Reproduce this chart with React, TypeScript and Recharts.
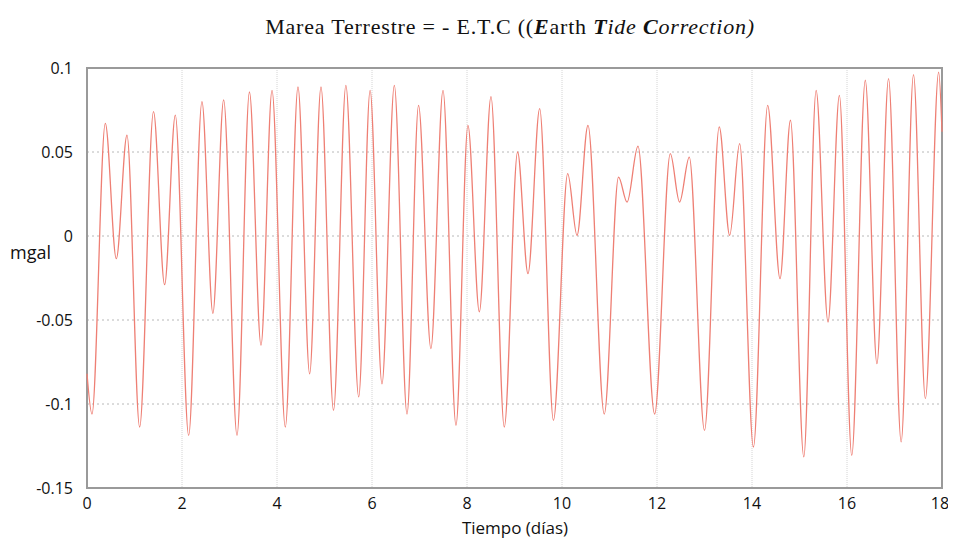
import React from "react";
import {
  LineChart,
  Line,
  XAxis,
  YAxis,
  CartesianGrid,
  ReferenceArea,
} from "recharts";

// Time (days) of each turning point of the curve
const times: number[] = [
  0.0, 0.105, 0.385, 0.617, 0.842, 1.108, 1.4, 1.634, 1.859, 2.14, 2.42, 2.65,
  2.877, 3.158, 3.42, 3.663, 3.895, 4.175, 4.442, 4.687, 4.926, 5.19, 5.45,
  5.72, 5.96, 6.21, 6.47, 6.737, 6.98, 7.24, 7.495, 7.768, 8.02, 8.26, 8.505,
  8.785, 9.065, 9.284, 9.53, 9.82, 10.12, 10.316, 10.547, 10.89, 11.19, 11.37,
  11.6, 11.95, 12.28, 12.475, 12.68, 13.0, 13.31, 13.53, 13.74, 14.03, 14.33,
  14.59, 14.81, 15.09, 15.35, 15.6, 15.84, 16.1, 16.385, 16.63, 16.875, 17.14,
  17.4, 17.65, 17.93, 18.0,
];

// Earth tide correction (mgal) at those points
const values: number[] = [
  -0.082, -0.106, 0.067, -0.0135, 0.06, -0.1137, 0.074, -0.029, 0.072, -0.1187,
  0.08, -0.046, 0.081, -0.1187, 0.0857, -0.065, 0.0867, -0.1137, 0.0887,
  -0.082, 0.0887, -0.1038, 0.0897, -0.0958, 0.0867, -0.088, 0.0897, -0.106,
  0.0778, -0.067, 0.0867, -0.1127, 0.0659, -0.0452, 0.083, -0.1137, 0.05,
  -0.0224, 0.0758, -0.1097, 0.0371, 0.0004, 0.0659, -0.106, 0.0351, 0.0202,
  0.0535, -0.106, 0.049, 0.0202, 0.047, -0.1157, 0.0649, 0.0004, 0.055,
  -0.1256, 0.0778, -0.0254, 0.0689, -0.1315, 0.0867, -0.0512, 0.0837, -0.1306,
  0.0927, -0.076, 0.0937, -0.1226, 0.096, -0.0968, 0.0976, 0.062,
];

const xTicks: number[] = [0, 2, 4, 6, 8, 10, 12, 14, 16, 18];
const yTicks: number[] = [-0.15, -0.1, -0.05, 0, 0.05, 0.1];

const data = times.map((t, i) => ({ t, v: values[i] }));

const tickFont = {
  fontFamily: "'Open Sans', sans-serif",
  fontSize: 16,
  fill: "#111",
};

export default function App() {
  return (
    <div style={{ position: "relative", width: 940, height: 535 }}>
      <div
        style={{
          position: "absolute",
          left: 0,
          width: 1004,
          top: 6,
          textAlign: "center",
          fontFamily: "'Liberation Serif', 'Times New Roman', serif",
          fontSize: 22,
          letterSpacing: 0.8,
          color: "#111",
          whiteSpace: "nowrap",
        }}
      >
        Marea Terrestre = - E.T.C ((<b><i>E</i></b>arth <b><i>T</i></b>
        <i>ide </i>
        <b><i>C</i></b>
        <i>orrection)</i>
      </div>
      <LineChart
        width={940}
        height={527}
        data={data}
        margin={{ top: 60, right: 6, bottom: 17, left: 19 }}
      >
        <CartesianGrid
          horizontal={true}
          vertical={false}
          stroke="#b8b8b8"
          strokeDasharray="2 3"
        />
        <CartesianGrid
          horizontal={false}
          vertical={true}
          stroke="#d4d4d4"
          strokeDasharray="1 1"
        />
        <XAxis
          dataKey="t"
          type="number"
          domain={[0, 18]}
          ticks={xTicks}
          tickLine={false}
          axisLine={false}
          tickSize={6}
          tickMargin={4}
          height={30}
          tick={tickFont}
        />
        <YAxis
          type="number"
          domain={[-0.15, 0.1]}
          ticks={yTicks}
          tickLine={false}
          axisLine={false}
          tickSize={6}
          tickMargin={8}
          width={60}
          tick={tickFont}
          allowDataOverflow
        />
        <ReferenceArea
          x1={0}
          x2={18}
          y1={-0.15}
          y2={0.1}
          fill="none"
          stroke="#9a9a9a"
          strokeWidth={2}
          ifOverflow="visible"
        />
        <Line
          type="monotone"
          dataKey="v"
          stroke="#ee7f74"
          strokeWidth={1.3}
          dot={false}
          isAnimationActive={false}
        />
      </LineChart>
      <div
        style={{
          position: "absolute",
          left: 2,
          top: 232,
          fontFamily: "'Open Sans', sans-serif",
          fontSize: 18,
          color: "#111",
        }}
      >
        mgal
      </div>
      <div
        style={{
          position: "absolute",
          left: 0,
          width: 1014,
          top: 510,
          textAlign: "center",
          fontFamily: "'Open Sans', sans-serif",
          fontSize: 17,
          lineHeight: "20px",
          color: "#111",
        }}
      >
        Tiempo (días)
      </div>
    </div>
  );
}
